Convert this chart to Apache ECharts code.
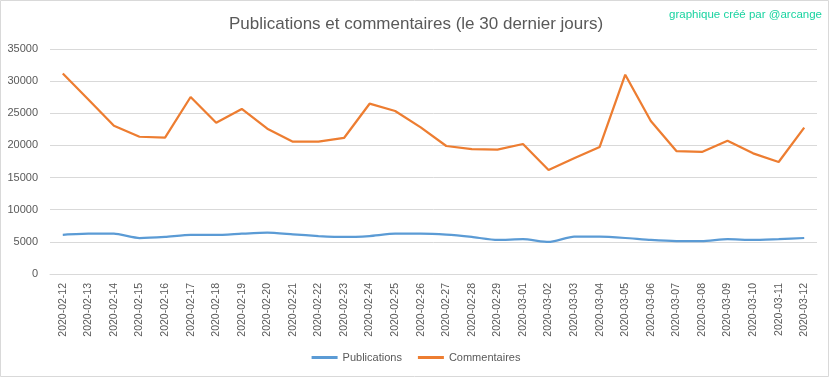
<!DOCTYPE html>
<html><head><meta charset="utf-8">
<script src="https://cdn.jsdelivr.net/npm/echarts@6/dist/echarts.min.js"></script>
<style>html,body{margin:0;padding:0;background:#fff}#c{width:832px;height:378px}</style>
</head><body><div id="c"></div>
<script>
const categories = ["2020-02-12","2020-02-13","2020-02-14","2020-02-15","2020-02-16","2020-02-17","2020-02-18","2020-02-19","2020-02-20","2020-02-21","2020-02-22","2020-02-23","2020-02-24","2020-02-25","2020-02-26","2020-02-27","2020-02-28","2020-02-29","2020-03-01","2020-03-02","2020-03-03","2020-03-04","2020-03-05","2020-03-06","2020-03-07","2020-03-08","2020-03-09","2020-03-10","2020-03-11","2020-03-12"];
const publications = [6100,6270,6270,5600,5760,6070,6070,6270,6430,6170,5910,5760,5910,6270,6270,6120,5760,5290,5440,4980,5800,5800,5600,5290,5130,5130,5440,5290,5440,5600];
const commentaires = [31200,27150,23050,21350,21200,27530,23540,25670,22600,20580,20580,21160,26490,25360,22810,19910,19440,19340,20220,16180,18000,19760,31000,23800,19130,18980,20740,18770,17420,22760];
const FONT = "'Liberation Sans','Noto Sans',sans-serif";
const chart = echarts.init(document.getElementById('c'), null, {renderer:'canvas'});
chart.setOption({
  animation:false,
  backgroundColor:'#fff',
  title:{text:'Publications et commentaires (le 30 dernier jours)', left:'center', top:11,
    textStyle:{fontFamily:FONT, fontSize:17, fontWeight:'normal', color:'#595959'}},
  graphic:[
    {type:'rect', shape:{x:0.5,y:0.5,width:828,height:376}, style:{fill:'none', stroke:'#d9d9d9', lineWidth:1}, silent:true},
    {type:'text', right:10, top:9, style:{text:'graphique créé par @arcange', font:"11.5px "+FONT, fill:'#19d3a0'}}
  ],
  legend:{bottom:10, left:'center', itemWidth:26, itemHeight:3, itemGap:16,
    icon:'rect',
    textStyle:{fontFamily:FONT, fontSize:11, color:'#595959'},
    data:['Publications','Commentaires']},
  grid:{left:50, right:15, top:49, bottom:104},
  xAxis:{type:'category', data:categories, boundaryGap:true,
    axisLine:{lineStyle:{color:'#d9d9d9'}}, axisTick:{show:false},
    axisLabel:{rotate:90, interval:0, margin:9, fontFamily:FONT, fontSize:10.5, color:'#595959'}},
  yAxis:{type:'value', min:0, max:35000, interval:5000,
    axisLine:{show:false}, axisTick:{show:false},
    splitLine:{lineStyle:{color:'#d9d9d9'}},
    axisLabel:{margin:12, formatter:v=>String(v), fontFamily:FONT, fontSize:11, color:'#595959'}},
  series:[
    {name:'Publications', type:'line', data:publications, symbol:'none', smooth:0.2,
      lineStyle:{color:'#5b9bd5', width:2.25}, itemStyle:{color:'#5b9bd5'}},
    {name:'Commentaires', type:'line', data:commentaires, symbol:'none',
      lineStyle:{color:'#ed7d31', width:2.25}, itemStyle:{color:'#ed7d31'}}
  ]
});
</script></body></html>
